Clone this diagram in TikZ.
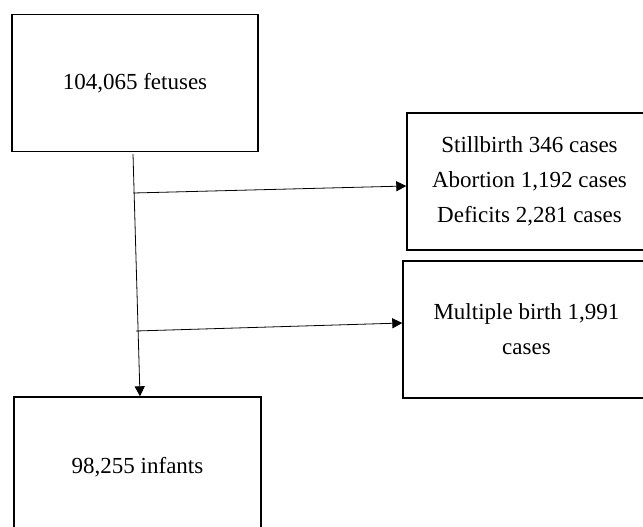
\documentclass[tikz,border=0pt]{standalone}
\usepackage{fontspec}
\setmainfont{Liberation Serif}
\usetikzlibrary{arrows.meta, positioning}

\begin{document}
\begin{tikzpicture}[x=1pt,y=-1pt,>={Triangle[length=10pt,width=10pt]},
  box/.style={draw,line width=1.4pt,inner sep=0pt,align=center,
              font=\fontsize{23}{35}\selectfont},
  flow/.style={->,line width=0.8pt}]
  \useasboundingbox (0,0) rectangle (643,527);
  \clip (0,0) rectangle (643,527);
  % boxes
  \node[box,minimum width=246pt,minimum height=137pt] (fetus) at (135,83) {104,065 fetuses};
  \node[box,minimum width=245pt,minimum height=137pt] (loss) at (529.5,181.5)
    {Stillbirth 346 cases\\Abortion 1,192 cases\\Deficits 2,281 cases};
  \node[box,minimum width=247pt,minimum height=137pt] (multi) at (526.5,329.5)
    {Multiple birth 1,991\\cases};
  \node[box,minimum width=247pt,minimum height=140pt] (infant) at (137.5,467) {98,255 infants};
  % connectors
  \coordinate (top) at (133,154);
  \coordinate (j1) at (133.5,193);
  \coordinate (j2) at (136,331);
  \draw[flow] (top) -- (infant.north -| 140,0);
  \draw[flow] (j1) -- (loss.west |- 0,186);
  \draw[flow] (j2) -- (multi.west |- 0,323);
\end{tikzpicture}
\end{document}
